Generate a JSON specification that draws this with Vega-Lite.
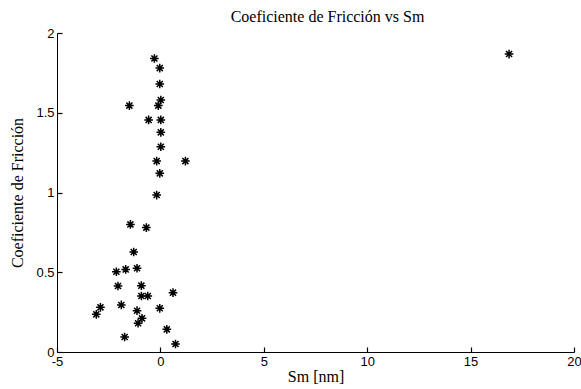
{
  "$schema": "https://vega.github.io/schema/vega-lite/v6.json",
  "width": 517,
  "height": 319,
  "autosize": "none",
  "padding": {"left": 57, "top": 33, "right": 7, "bottom": 37},
  "background": "white",
  "title": {"text": "Coeficiente de Fricción vs Sm", "font": "Liberation Serif", "fontSize": 16, "fontWeight": "normal", "color": "black", "anchor": "middle", "dx": 12, "offset": 2},
  "config": {"view": {"stroke": null}},
  "data": {"values": [
    {"sm": -0.29, "cf": 1.84},
    {"sm": -0.03, "cf": 1.78},
    {"sm": -0.03, "cf": 1.68},
    {"sm": 0.02, "cf": 1.58},
    {"sm": -0.1, "cf": 1.545},
    {"sm": -1.5, "cf": 1.545},
    {"sm": -0.57, "cf": 1.455},
    {"sm": 0.02, "cf": 1.455},
    {"sm": 0.02, "cf": 1.377},
    {"sm": 0.02, "cf": 1.287},
    {"sm": -0.18, "cf": 1.197},
    {"sm": 1.21, "cf": 1.197},
    {"sm": -0.03, "cf": 1.12},
    {"sm": -0.18, "cf": 0.984},
    {"sm": -1.45, "cf": 0.8},
    {"sm": -0.68, "cf": 0.78},
    {"sm": -1.29, "cf": 0.627},
    {"sm": -2.13, "cf": 0.503},
    {"sm": -1.68, "cf": 0.518},
    {"sm": -1.13, "cf": 0.525},
    {"sm": -2.05, "cf": 0.414},
    {"sm": -0.92, "cf": 0.416},
    {"sm": -0.92, "cf": 0.351},
    {"sm": -0.61, "cf": 0.351},
    {"sm": 0.61, "cf": 0.372},
    {"sm": -2.9, "cf": 0.28},
    {"sm": -3.1, "cf": 0.236},
    {"sm": -1.89, "cf": 0.295},
    {"sm": -1.13, "cf": 0.259},
    {"sm": -0.03, "cf": 0.274},
    {"sm": -0.89, "cf": 0.211},
    {"sm": -1.08, "cf": 0.18},
    {"sm": 0.31, "cf": 0.142},
    {"sm": -1.73, "cf": 0.094},
    {"sm": 0.73, "cf": 0.05},
    {"sm": 16.86, "cf": 1.868}
  ]},
  "layer": [
    {
      "mark": {
        "type": "point",
        "shape": "M-1,0L1,0M0,-1L0,1M-0.7,-0.7L0.7,0.7M-0.7,0.7L0.7,-0.7",
        "filled": false,
        "stroke": "black",
        "strokeWidth": 1.5,
        "size": 75,
        "opacity": 1
      },
      "encoding": {
        "x": {
          "field": "sm", "type": "quantitative",
          "scale": {"domain": [-5, 20], "nice": false, "zero": false},
          "axis": {
            "title": "Sm [nm]", "titleFont": "Liberation Serif", "titleFontSize": 16, "titleFontWeight": "normal", "titleColor": "black", "titlePadding": 0,
            "values": [-5, 0, 5, 10, 15, 20], "labelExpr": "'' + datum.value",
            "labelFont": "Liberation Sans", "labelFontSize": 13, "labelColor": "black", "labelPadding": 3,
            "grid": false, "domainColor": "black", "ticks": false, "tickSize": 5, "labelFlush": false
          }
        },
        "y": {
          "field": "cf", "type": "quantitative",
          "scale": {"domain": [0, 2], "nice": false},
          "axis": {
            "title": "Coeficiente de Fricción", "titleFont": "Liberation Serif", "titleFontSize": 16, "titleFontWeight": "normal", "titleColor": "black", "titlePadding": 10,
            "values": [0, 0.5, 1, 1.5, 2], "labelExpr": "'' + datum.value",
            "labelFont": "Liberation Sans", "labelFontSize": 13, "labelColor": "black", "labelPadding": 3,
            "grid": false, "domainColor": "black", "ticks": false, "tickSize": 5, "labelFlush": false
          }
        }
      }
    },
    {
      "mark": {"type": "point", "opacity": 0},
      "encoding": {
        "x": {
          "field": "sm", "type": "quantitative",
          "axis": {"orient": "top", "offset": -319, "title": null, "labels": false, "domain": false, "grid": false,
                   "values": [-5, 0, 5, 10, 15, 20], "ticks": true, "tickSize": 5, "tickColor": "black", "tickWidth": 1.2}
        },
        "y": {
          "field": "cf", "type": "quantitative",
          "axis": {"orient": "right", "offset": -517, "title": null, "labels": false, "domain": false, "grid": false,
                   "values": [0, 0.5, 1, 1.5, 2], "ticks": true, "tickSize": 5, "tickColor": "black", "tickWidth": 1.2}
        }
      }
    }
  ],
  "resolve": {"axis": {"x": "independent", "y": "independent"}}
}
